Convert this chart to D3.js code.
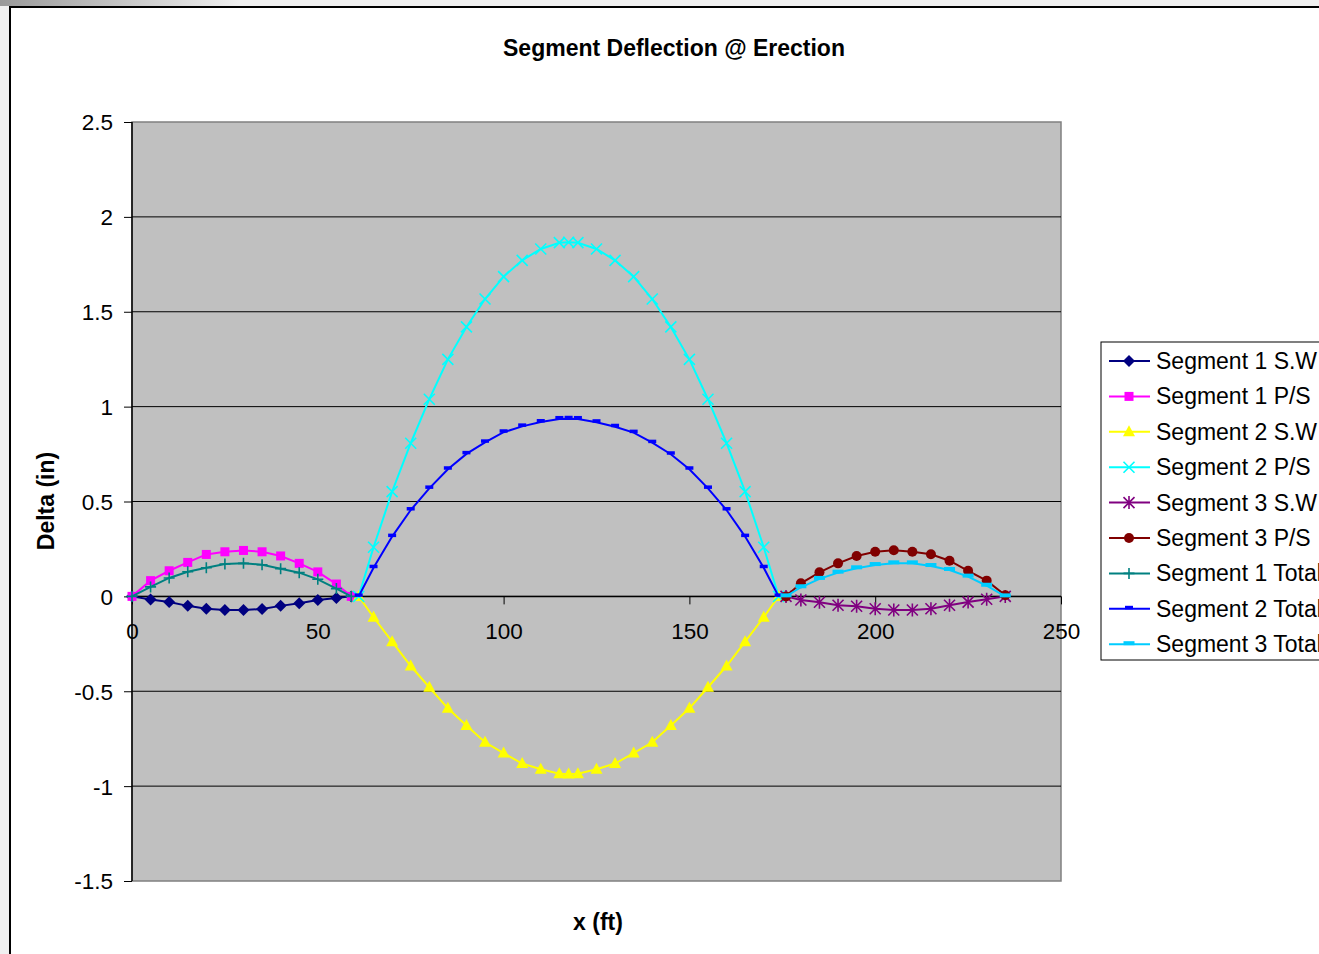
<!DOCTYPE html>
<html>
<head>
<meta charset="utf-8">
<script src="https://cdn.jsdelivr.net/npm/d3@7/dist/d3.min.js"></script>
<style>
  body { margin: 0; background: #f0f0f0; overflow: hidden; }
  text { font-family: Arial, "Liberation Sans", sans-serif; fill: #000; }
</style>
</head>
<body>
<div id="chart"></div>
<script>
// x stations (ft) for each segment
var xSeg1 = [0, 5, 10, 15, 20, 25, 30, 35, 40, 45, 50, 55, 59];
var xSeg2 = [61, 65, 70, 75, 80, 85, 90, 95, 100, 105, 110, 115, 117.5, 120, 125, 130, 135, 140, 145, 150, 155, 160, 165, 170, 174];
var xSeg3 = [176, 180, 185, 190, 195, 200, 205, 210, 215, 220, 225, 230, 235];

// deflections (in)
var seg1SW    = [0, -0.016, -0.030, -0.050, -0.065, -0.072, -0.072, -0.066, -0.050, -0.036, -0.019, -0.008, 0];
var seg1PS    = [0, 0.083, 0.135, 0.179, 0.221, 0.235, 0.242, 0.235, 0.213, 0.174, 0.129, 0.065, 0];
var seg2SW    = [0, -0.110, -0.239, -0.367, -0.479, -0.590, -0.681, -0.769, -0.826, -0.881, -0.911, -0.935, -0.936, -0.935, -0.911, -0.881, -0.826, -0.769, -0.681, -0.590, -0.479, -0.367, -0.239, -0.110, 0];
var seg2PS    = [0, 0.259, 0.552, 0.807, 1.039, 1.249, 1.420, 1.567, 1.685, 1.771, 1.831, 1.864, 1.866, 1.864, 1.831, 1.771, 1.685, 1.567, 1.420, 1.249, 1.039, 0.807, 0.552, 0.259, 0];
var seg3SW    = [0, -0.019, -0.031, -0.047, -0.052, -0.065, -0.072, -0.072, -0.065, -0.047, -0.030, -0.015, 0];
var seg3PS    = [0, 0.069, 0.127, 0.174, 0.213, 0.235, 0.243, 0.235, 0.222, 0.188, 0.135, 0.083, 0.006];
var seg1Total = [0, 0.050, 0.097, 0.130, 0.151, 0.171, 0.174, 0.167, 0.146, 0.125, 0.090, 0.041, 0];
var seg2Total = [0, 0.151, 0.315, 0.455, 0.569, 0.670, 0.751, 0.812, 0.865, 0.896, 0.919, 0.935, 0.936, 0.935, 0.918, 0.894, 0.863, 0.810, 0.749, 0.670, 0.569, 0.455, 0.315, 0.151, 0];
var seg3Total = [0, 0.048, 0.092, 0.125, 0.148, 0.165, 0.174, 0.174, 0.160, 0.139, 0.104, 0.056, 0];

var seriesNames = ["Segment 1 S.W", "Segment 1 P/S", "Segment 2 S.W", "Segment 2 P/S", "Segment 3 S.W",
                   "Segment 3 P/S", "Segment 1 Total", "Segment 2 Total", "Segment 3 Total"];
var seriesX = [xSeg1, xSeg1, xSeg2, xSeg2, xSeg3, xSeg3, xSeg1, xSeg2, xSeg3];
var seriesY = [seg1SW, seg1PS, seg2SW, seg2PS, seg3SW, seg3PS, seg1Total, seg2Total, seg3Total];
var colors  = ["#000080", "#ff00ff", "#ffff00", "#00ffff", "#800080", "#800000", "#008080", "#0000ff", "#00ccff"];
var shapes  = ["diamond", "square", "triangle", "x", "star", "circle", "plus", "dash", "bar"];

var xTicks = [0, 50, 100, 150, 200, 250];
var yTicks = [-1.5, -1, -0.5, 0, 0.5, 1, 1.5, 2, 2.5];

var W = 1319, H = 954;
var margin = {top: 122, left: 132},
    width = 929,
    height = 759;

var svg = d3.select("#chart")
    .append("svg")
        .attr("width", W)
        .attr("height", H);

// window shading at top-left
var grad = svg.append("defs").append("linearGradient")
    .attr("id", "shade").attr("x1", 0).attr("x2", 1).attr("y1", 0).attr("y2", 0);
grad.append("stop").attr("offset", "0").attr("stop-color", "#9a9a9a");
grad.append("stop").attr("offset", "1").attr("stop-color", "#f0f0f0");
svg.append("rect").attr("x", 0).attr("y", 0).attr("width", 240).attr("height", 6).attr("fill", "url(#shade)");

// chart frame
svg.append("rect")
    .attr("x", 10).attr("y", 7)
    .attr("width", W).attr("height", H)
    .attr("fill", "#fff")
    .attr("stroke", "#000")
    .attr("stroke-width", 2);

var g = svg.append("g")
    .attr("transform", "translate(" + margin.left + "," + margin.top + ")");

var x = d3.scaleLinear().domain([0, 250]).range([0, width]);
var y = d3.scaleLinear().domain([-1.5, 2.5]).range([height, 0]);

// plot area
g.append("rect")
    .attr("width", width).attr("height", height)
    .attr("fill", "#c0c0c0")
    .attr("stroke", "#808080")
    .attr("stroke-width", 1.5);

// gridlines
g.selectAll(".grid")
    .data(yTicks.filter(function(d) { return d > -1.5 && d < 2.5; }))
    .enter().append("line")
        .attr("x1", 0).attr("x2", width)
        .attr("y1", function(d) { return y(d); })
        .attr("y2", function(d) { return y(d); })
        .attr("stroke", "#000")
        .attr("stroke-width", 1);

var plain = function(d) { return String(d); };  // hyphen minus, like the original

// y axis
var yAxis = g.append("g")
    .call(d3.axisLeft(y).tickValues(yTicks).tickSize(8).tickPadding(11).tickFormat(plain));
yAxis.selectAll("text").style("font-size", "22.5px").attr("dy", "0.35em");

// x axis at y = 0
var xAxis = g.append("g")
    .attr("transform", "translate(0," + y(0) + ")")
    .call(d3.axisBottom(x).tickValues(xTicks).tickSize(8).tickPadding(19).tickFormat(plain));
xAxis.selectAll("text").style("font-size", "22.5px");
g.selectAll(".domain").attr("stroke", "#000").attr("stroke-width", 1.5);
g.selectAll(".tick line").attr("stroke", "#000");
xAxis.select(".domain").attr("d", "M0,0H" + width);
yAxis.select(".domain").attr("d", "M0,0V" + height);

function marker(sel, shape, color) {
    if (shape === "diamond") {
        sel.append("path").attr("d", "M0,-6L6,0L0,6L-6,0Z").attr("fill", color);
    } else if (shape === "square") {
        sel.append("rect").attr("x", -4.5).attr("y", -4.5).attr("width", 9).attr("height", 9).attr("fill", color);
    } else if (shape === "triangle") {
        sel.append("path").attr("d", "M0,-6.5L6,4.5L-6,4.5Z").attr("fill", color);
    } else if (shape === "x") {
        sel.append("path").attr("d", "M-5.5,-5.5L5.5,5.5M-5.5,5.5L5.5,-5.5").attr("stroke", color).attr("stroke-width", 1.6);
    } else if (shape === "star") {
        sel.append("path").attr("d", "M-5.5,-5.5L5.5,5.5M-5.5,5.5L5.5,-5.5M0,-6.5V6.5").attr("stroke", color).attr("stroke-width", 1.6);
    } else if (shape === "circle") {
        sel.append("circle").attr("r", 5).attr("fill", color);
    } else if (shape === "plus") {
        sel.append("path").attr("d", "M-5.5,0H5.5M0,-5.5V5.5").attr("stroke", color).attr("stroke-width", 1.6);
    } else if (shape === "dash") {
        sel.append("rect").attr("x", -4).attr("y", -3).attr("width", 8).attr("height", 3.5).attr("fill", color);
    } else if (shape === "bar") {
        sel.append("rect").attr("x", -5.5).attr("y", -3).attr("width", 11).attr("height", 4).attr("fill", color);
    }
}

var line = d3.line()
    .x(function(d) { return x(d[0]); })
    .y(function(d) { return y(d[1]); });

seriesNames.forEach(function(name, i) {
    var data = seriesX[i].map(function(d, j) { return [d, seriesY[i][j]]; });
    var s = g.append("g").attr("class", "series");
    s.append("path")
        .datum(data)
        .attr("fill", "none")
        .attr("stroke", colors[i])
        .attr("stroke-width", 2)
        .attr("d", line);
    s.selectAll(".pt")
        .data(data)
        .enter().append("g")
            .attr("transform", function(d) { return "translate(" + x(d[0]) + "," + y(d[1]) + ")"; })
            .each(function() { marker(d3.select(this), shapes[i], colors[i]); });
});

// title and axis labels
svg.append("text")
    .attr("x", 674).attr("y", 56)
    .attr("text-anchor", "middle")
    .style("font-size", "23px").style("font-weight", "bold")
    .text("Segment Deflection @ Erection");

svg.append("text")
    .attr("x", 598).attr("y", 930)
    .attr("text-anchor", "middle")
    .style("font-size", "23px").style("font-weight", "bold")
    .text("x (ft)");

svg.append("text")
    .attr("transform", "translate(54,501) rotate(-90)")
    .attr("text-anchor", "middle")
    .style("font-size", "23px").style("font-weight", "bold")
    .text("Delta (in)");

// legend (its right side runs past the window, as in the original)
var legend = svg.append("g").attr("transform", "translate(1101,342)");
legend.append("rect")
    .attr("width", 240).attr("height", 318)
    .attr("fill", "#fff")
    .attr("stroke", "#000")
    .attr("stroke-width", 1);

seriesNames.forEach(function(name, i) {
    var row = legend.append("g").attr("transform", "translate(0," + (19 + i * 35.4) + ")");
    row.append("line")
        .attr("x1", 8).attr("x2", 49)
        .attr("stroke", colors[i]).attr("stroke-width", 2);
    var m = row.append("g").attr("transform", "translate(28,0)");
    marker(m, shapes[i], colors[i]);
    row.append("text")
        .attr("x", 55).attr("dy", "0.35em")
        .style("font-size", "23px")
        .text(name);
});
</script>
</body>
</html>
